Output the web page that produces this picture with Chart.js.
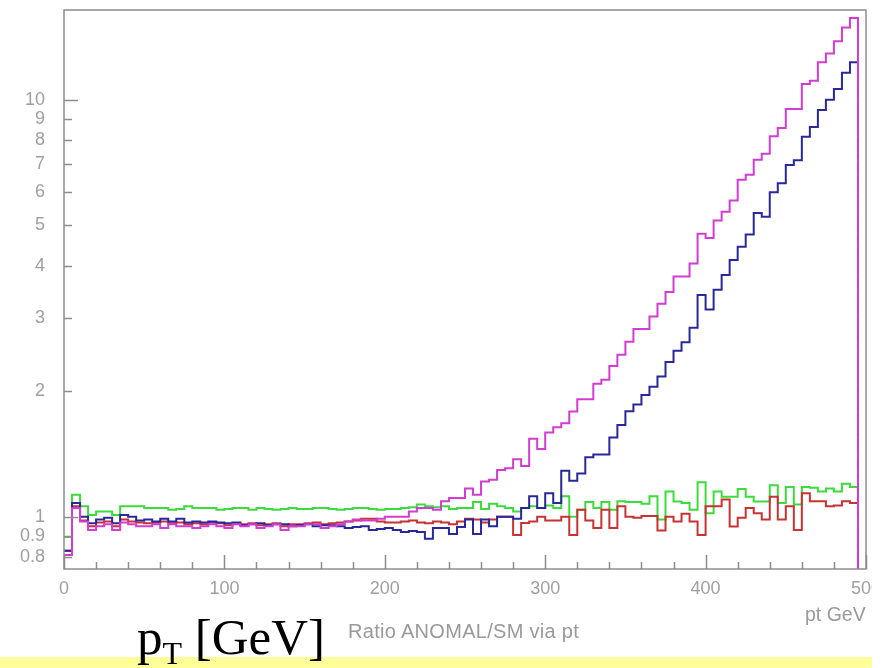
<!DOCTYPE html>
<html>
<head>
<meta charset="utf-8">
<script src="https://cdn.jsdelivr.net/npm/chart.js@4.4.0/dist/chart.umd.min.js"></script>
<style>
  html, body { margin: 0; padding: 0; background: #fff; }
  #wrap { position: relative; width: 883px; height: 668px; overflow: hidden; }
  #box { position: absolute; left: 0; top: 0; width: 883px; height: 668px; }
  .lbl { position: absolute; font-family: "Liberation Sans", Arial, sans-serif; color: #9a9a9a; white-space: nowrap; }
  #band { position: absolute; left: 0; top: 657px; width: 872px; height: 11px; background: #ffff99; }
  #cut { position: absolute; left: 872px; top: 0; width: 11px; height: 668px; background: #fff; }
  #ptT { position: absolute; left: 137px; top: 612px; font-family: "Liberation Serif", "Times New Roman", serif; font-size: 51px; line-height: 51px; color: #000; white-space: nowrap; }
  #ptT sub { font-size: 32px; line-height: 0; vertical-align: -10px; }
</style>
</head>
<body>
<div id="wrap">
  <div id="band"></div>
  <div id="box"><canvas id="c"></canvas></div>
  <div id="cut"></div>
  <div class="lbl" style="left:805px; top:603px; font-size:19.5px;">pt GeV</div>
  <div class="lbl" style="left:348px; top:620px; font-size:20px; letter-spacing:0.3px;">Ratio ANOMAL/SM via pt</div>
  <div id="ptT">p<sub>T</sub> [GeV]</div>
</div>
<script>
// 100 bins of 5 GeV, ratio ANOMAL/SM per bin (last bin empty -> off scale)
const binWidth = 5;

const magenta = [
  0.81, 1.05, 0.975, 0.93, 0.95, 0.96, 0.93, 0.97, 0.96, 0.95,
  0.95, 0.96, 0.94, 0.96, 0.95, 0.95, 0.94, 0.95, 0.96, 0.95,
  0.94, 0.96, 0.95, 0.96, 0.94, 0.95, 0.96, 0.93, 0.95, 0.95,
  0.96, 0.96, 0.94, 0.95, 0.96, 0.975, 0.985, 0.98, 0.98, 0.99,
  1.0, 1.0, 1.0, 1.03, 1.05, 1.05, 1.04, 1.09, 1.11, 1.11,
  1.17, 1.13, 1.215, 1.227, 1.296, 1.308, 1.375, 1.325, 1.538, 1.455,
  1.593, 1.64, 1.677, 1.788, 1.915, 1.915, 2.084, 2.13, 2.30, 2.446,
  2.63, 2.82, 2.82, 3.02, 3.24, 3.46, 3.77, 3.77, 4.05, 4.77,
  4.66, 5.13, 5.39, 5.73, 6.43, 6.61, 7.18, 7.42, 8.17, 8.55,
  9.49, 9.49, 10.9, 11.1, 12.3, 12.9, 13.8, 14.9, 15.7, 0.1
];

const blue = [
  0.83, 1.08, 1.0, 0.965, 0.985, 0.995, 0.965, 1.01, 1.0, 0.98,
  0.985, 0.975, 0.99, 0.975, 0.99, 0.97, 0.975, 0.97, 0.975, 0.97,
  0.965, 0.97, 0.955, 0.96, 0.965, 0.955, 0.96, 0.96, 0.95, 0.955,
  0.96, 0.95, 0.955, 0.955, 0.95, 0.94, 0.945, 0.95, 0.93, 0.935,
  0.94, 0.93, 0.92, 0.925, 0.92, 0.886, 0.94, 0.94, 0.91, 0.946,
  0.985, 0.91, 0.985, 0.95, 1.0, 1.0, 0.99, 1.05, 1.12, 1.05,
  1.14, 1.08, 1.29, 1.22, 1.27, 1.39, 1.41, 1.41, 1.55, 1.66,
  1.79, 1.86, 1.96, 2.05, 2.17, 2.35, 2.5, 2.62, 2.84, 3.4,
  3.14, 3.5, 3.8, 4.13, 4.44, 4.75, 5.35, 5.24, 6.0, 6.3,
  6.97, 7.16, 8.15, 8.6, 9.45, 10.0, 10.6, 11.6, 12.3, 0.1
];

const green = [
  0.895, 1.13, 1.06, 1.01, 1.03, 1.03, 1.01, 1.06, 1.06, 1.06,
  1.05, 1.05, 1.05, 1.04, 1.045, 1.06, 1.05, 1.05, 1.05, 1.04,
  1.045, 1.05, 1.05, 1.04, 1.05, 1.045, 1.04, 1.045, 1.05, 1.045,
  1.045, 1.05, 1.05, 1.045, 1.04, 1.045, 1.05, 1.05, 1.045, 1.04,
  1.045, 1.045, 1.05, 1.055, 1.07, 1.06, 1.055, 1.06, 1.045, 1.05,
  1.05, 1.086, 1.045, 1.075, 1.06, 1.05, 1.03, 1.05, 1.06, 1.05,
  1.065, 1.05, 1.12, 1.0, 1.04, 1.086, 1.05, 1.086, 1.04, 1.09,
  1.086, 1.086, 1.075, 1.12, 0.985, 1.15, 1.088, 1.08, 1.04, 1.21,
  1.02, 1.15, 1.118, 1.118, 1.167, 1.118, 1.088, 1.088, 1.19, 1.08,
  1.18, 1.07, 1.18, 1.175, 1.15, 1.17, 1.15, 1.2, 1.18, 0.1
];

const red = [
  0.83, 1.06, 0.98, 0.95, 0.97, 0.975, 0.95, 0.985, 0.975, 0.97,
  0.965, 0.97, 0.975, 0.965, 0.97, 0.96, 0.965, 0.96, 0.97, 0.965,
  0.955, 0.965, 0.96, 0.965, 0.955, 0.96, 0.965, 0.95, 0.96, 0.96,
  0.965, 0.97, 0.96, 0.965, 0.97, 0.975, 0.98, 0.99, 0.99, 0.975,
  0.97, 0.97, 0.975, 0.98, 0.97, 0.965, 0.975, 0.97, 0.96, 0.975,
  0.99, 0.985, 0.97, 0.985, 1.0, 1.0, 0.905, 0.967, 0.975, 1.0,
  0.98, 0.98, 1.0, 0.905, 1.04, 0.98, 0.94, 1.04, 0.94, 1.06,
  1.0, 0.995, 1.005, 1.005, 0.927, 1.0, 0.975, 1.017, 0.975, 0.905,
  1.06, 1.06, 1.1, 0.948, 0.995, 1.05, 1.02, 0.985, 1.118, 0.985,
  1.06, 0.93, 1.14, 1.09, 1.09, 1.06, 1.065, 1.09, 1.08, 0.1
];

const yTicks = [0.8, 0.9, 1, 2, 3, 4, 5, 6, 7, 8, 9, 10];
const yMajor = [1, 10];
const xMajor = [0, 100, 200, 300, 400, 500];
const xMinor = [20, 40, 60, 80, 120, 140, 160, 180, 220, 240, 260, 280,
                320, 340, 360, 380, 420, 440, 460, 480];

// histogram: a point at each bin's low edge plus the closing edge
function histo(vals) {
  const pts = vals.map((v, i) => ({ x: i * binWidth, y: v }));
  pts.push({ x: vals.length * binWidth, y: vals[vals.length - 1] });
  return pts;
}

function ds(vals, color) {
  return {
    data: histo(vals),
    borderColor: color,
    borderWidth: 2,
    stepped: 'before',
    pointRadius: 0,
    fill: false,
  };
}

const axisGray = '#8c8c8c';

function noPad(s) {
  s.paddingTop = 0;
  s.paddingBottom = 0;
  s.paddingLeft = 0;
  s.paddingRight = 0;
}

const frameTicks = {
  id: 'frameTicks',
  afterDraw(chart) {
    const { ctx, chartArea: a, scales: { x, y } } = chart;
    ctx.save();
    ctx.strokeStyle = axisGray;
    ctx.lineWidth = 1.5;
    ctx.strokeRect(a.left, a.top, a.right - a.left, a.bottom - a.top);
    ctx.beginPath();
    yTicks.forEach(v => {
      const py = Math.round(y.getPixelForValue(v)) + 0.5;
      const len = yMajor.includes(v) ? 14 : 8;
      ctx.moveTo(a.left, py);
      ctx.lineTo(a.left + len, py);
    });
    xMajor.forEach(v => {
      const px = Math.round(x.getPixelForValue(v)) + 0.5;
      ctx.moveTo(px, a.bottom);
      ctx.lineTo(px, a.bottom - 14);
    });
    xMinor.forEach(v => {
      const px = Math.round(x.getPixelForValue(v)) + 0.5;
      ctx.moveTo(px, a.bottom);
      ctx.lineTo(px, a.bottom - 7);
    });
    ctx.stroke();
    ctx.restore();
  }
};

new Chart(document.getElementById('c'), {
  type: 'line',
  data: {
    datasets: [
      ds(magenta, '#d23cd2'),
      ds(blue, '#28289a'),
      ds(red, '#c83232'),
      ds(green, '#3cdc3c'),
    ],
  },
  options: {
    responsive: true,
    maintainAspectRatio: false,
    animation: false,
    layout: { padding: { left: 0, top: 10, right: 17, bottom: 69 } },
    plugins: { legend: { display: false }, tooltip: { enabled: false } },
    scales: {
      x: {
        type: 'linear',
        min: 0,
        max: 500,
        afterFit: s => { s.height = 30; noPad(s); },
        afterBuildTicks: s => { s.ticks = xMajor.map(v => ({ value: v })); },
        grid: { display: false, drawTicks: false },
        border: { display: false },
        ticks: {
          autoSkip: false,
          maxRotation: 0,
          padding: 9,
          color: '#a0a0a0',
          font: { family: 'Liberation Sans', size: 18 },
          callback: v => String(v),
        },
      },
      y: {
        type: 'logarithmic',
        min: 0.75,
        max: 16.4,
        afterFit: s => { s.width = 64; noPad(s); },
        afterBuildTicks: s => { s.ticks = yTicks.map(v => ({ value: v })); },
        grid: { display: false, drawTicks: false },
        border: { display: false },
        ticks: {
          autoSkip: false,
          padding: 19,
          color: '#a0a0a0',
          font: { family: 'Liberation Sans', size: 18 },
          callback: v => String(v),
        },
      },
    },
  },
  plugins: [frameTicks],
});
</script>
</body>
</html>
